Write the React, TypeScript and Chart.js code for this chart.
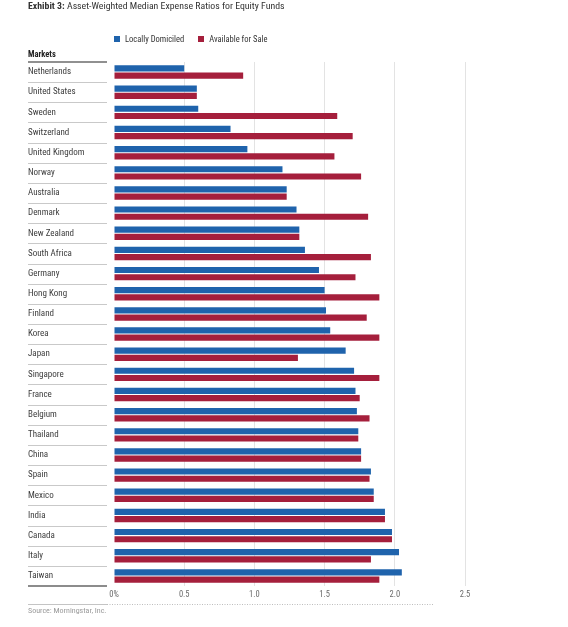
import React, { useEffect, useRef } from "react";
import { Chart, registerables } from "chart.js";

Chart.register(...registerables);

const FONT = "'Roboto Condensed', 'DejaVu Sans Condensed', sans-serif";

const categories = [
  "Netherlands", "United States", "Sweden", "Switzerland", "United Kingdom", "Norway",
  "Australia", "Denmark", "New Zealand", "South Africa", "Germany", "Hong Kong",
  "Finland", "Korea", "Japan", "Singapore", "France", "Belgium", "Thailand", "China",
  "Spain", "Mexico", "India", "Canada", "Italy", "Taiwan",
];

const locallyDomiciled = [
  0.50, 0.59, 0.60, 0.83, 0.95, 1.20, 1.23, 1.30, 1.32, 1.36, 1.46, 1.50, 1.51,
  1.54, 1.65, 1.71, 1.72, 1.73, 1.74, 1.76, 1.83, 1.85, 1.93, 1.98, 2.03, 2.05,
];

const availableForSale = [
  0.92, 0.59, 1.59, 1.70, 1.57, 1.76, 1.23, 1.81, 1.32, 1.83, 1.72, 1.89, 1.80,
  1.89, 1.31, 1.89, 1.75, 1.82, 1.74, 1.76, 1.82, 1.85, 1.93, 1.98, 1.83, 1.89,
];

const seriesNames = ["Locally Domiciled", "Available for Sale"];
const seriesColors = ["#1f63ac", "#a51f3c"];

const xTickValues = [0, 0.5, 1, 1.5, 2, 2.5];

const title = { bold: "Exhibit 3:", rest: " Asset-Weighted Median Expense Ratios for Equity Funds" };
const headerLabel = "Markets";
const sourceText = "Source: Morningstar, Inc.";

const tablePlugin = {
  id: "tableDecor",
  afterDraw(chart: any) {
    const { ctx, chartArea, scales } = chart;
    const y = scales.y;
    const x0 = 28;
    const x1 = chartArea.left - 7;
    ctx.save();
    // header
    ctx.font = `bold 8.5px ${FONT}`;
    ctx.fillStyle = "#222";
    ctx.textBaseline = "middle";
    ctx.textAlign = "left";
    ctx.fillText(headerLabel, x0, chartArea.top - 7);
    // header rule
    ctx.strokeStyle = "#222";
    ctx.lineWidth = 1.2;
    ctx.beginPath();
    ctx.moveTo(x0, chartArea.top);
    ctx.lineTo(x1, chartArea.top);
    ctx.stroke();
    // row separators
    ctx.strokeStyle = "#c9c9c9";
    ctx.lineWidth = 1;
    for (let i = 0; i < categories.length - 1; i++) {
      const yy = Math.round((y.getPixelForValue(i) + y.getPixelForValue(i + 1)) / 2) + 0.5;
      ctx.beginPath();
      ctx.moveTo(x0, yy);
      ctx.lineTo(x1, yy);
      ctx.stroke();
    }
    // bottom rule
    ctx.strokeStyle = "#8c8c8c";
    ctx.lineWidth = 2;
    ctx.beginPath();
    ctx.moveTo(x0, chartArea.bottom);
    ctx.lineTo(x1, chartArea.bottom);
    ctx.stroke();
    // footer rule
    const fy = chartArea.bottom + 18.5;
    ctx.strokeStyle = "#c4c4c4";
    ctx.lineWidth = 1;
    ctx.beginPath();
    ctx.moveTo(x0, fy);
    ctx.lineTo(x1, fy);
    ctx.stroke();
    ctx.setLineDash([1, 1.5]);
    ctx.strokeStyle = "#bdbdbd";
    ctx.beginPath();
    ctx.moveTo(x1, fy);
    ctx.lineTo(chartArea.right - 32, fy);
    ctx.stroke();
    ctx.restore();
  },
};

export default function App() {
  const ref = useRef<HTMLCanvasElement | null>(null);

  useEffect(() => {
    if (!ref.current) return;
    const chart = new Chart(ref.current, {
      type: "bar",
      data: {
        labels: categories,
        datasets: [
          {
            label: seriesNames[0],
            data: locallyDomiciled,
            backgroundColor: seriesColors[0],
            categoryPercentage: 0.72,
            barPercentage: 0.85,
          },
          {
            label: seriesNames[1],
            data: availableForSale,
            backgroundColor: seriesColors[1],
            categoryPercentage: 0.72,
            barPercentage: 0.85,
          },
        ],
      },
      options: {
        indexAxis: "y",
        responsive: false,
        animation: false,
        layout: { padding: { left: 28, right: 103, top: 62, bottom: 21 } },
        plugins: {
          legend: { display: false },
          title: { display: false },
          tooltip: { enabled: false },
        },
        scales: {
          x: {
            type: "linear",
            position: "bottom",
            min: 0,
            max: 2.5,
            z: 1,
            afterFit: (s: any) => {
              s.height = 20;
            },
            afterBuildTicks: (s: any) => {
              s.ticks = xTickValues.map((v) => ({ value: v }));
            },
            ticks: {
              padding: 4,
              color: "#6a6a6a",
              font: { family: FONT, size: 8.5 },
              callback: (v: any) => (Number(v) === 0 ? "0%" : Number(v).toFixed(1)),
            },
            grid: {
              drawTicks: false,
              color: (c: any) => (c.tick && c.tick.value === 0 ? "rgba(0,0,0,0)" : "rgba(0,0,0,0.11)"),
              lineWidth: 1,
            },
            border: { display: false },
          },
          y: {
            type: "category",
            position: "left",
            afterFit: (s: any) => {
              s.width = 86;
            },
            ticks: {
              autoSkip: false,
              crossAlign: "far",
              padding: 0,
              color: "#3c3c3c",
              font: { family: FONT, size: 9 },
            },
            grid: { display: false, drawTicks: false },
            border: { display: false },
          },
        },
      },
      plugins: [tablePlugin],
    } as any);
    return () => chart.destroy();
  }, []);

  return (
    <div style={{ position: "absolute", left: 0, top: 0, width: 568, height: 627, background: "#fff", fontFamily: FONT }}>
      <canvas ref={ref} width={568} height={627} style={{ position: "absolute", left: 0, top: 0 }} />
      <div style={{ position: "absolute", left: 28, top: 0, fontSize: 9.8, lineHeight: "12px", color: "#333", whiteSpace: "nowrap" }}>
        <span style={{ fontWeight: "bold" }}>{title.bold}</span>
        <span>{title.rest}</span>
      </div>
      <div style={{ position: "absolute", left: 114, top: 34, height: 10, display: "flex", alignItems: "center", fontSize: 8.5, lineHeight: "10px", color: "#333", whiteSpace: "nowrap" }}>
        {seriesNames.map((n, i) => (
          <div key={n} style={{ display: "flex", alignItems: "center", marginRight: 14 }}>
            <span style={{ display: "inline-block", width: 6, height: 6, background: seriesColors[i], marginRight: 5 }} />
            <span>{n}</span>
          </div>
        ))}
      </div>
      <div style={{ position: "absolute", left: 28, top: 606, fontSize: 8, lineHeight: "10px", color: "#9a9a9a", whiteSpace: "nowrap" }}>
        {sourceText}
      </div>
    </div>
  );
}
